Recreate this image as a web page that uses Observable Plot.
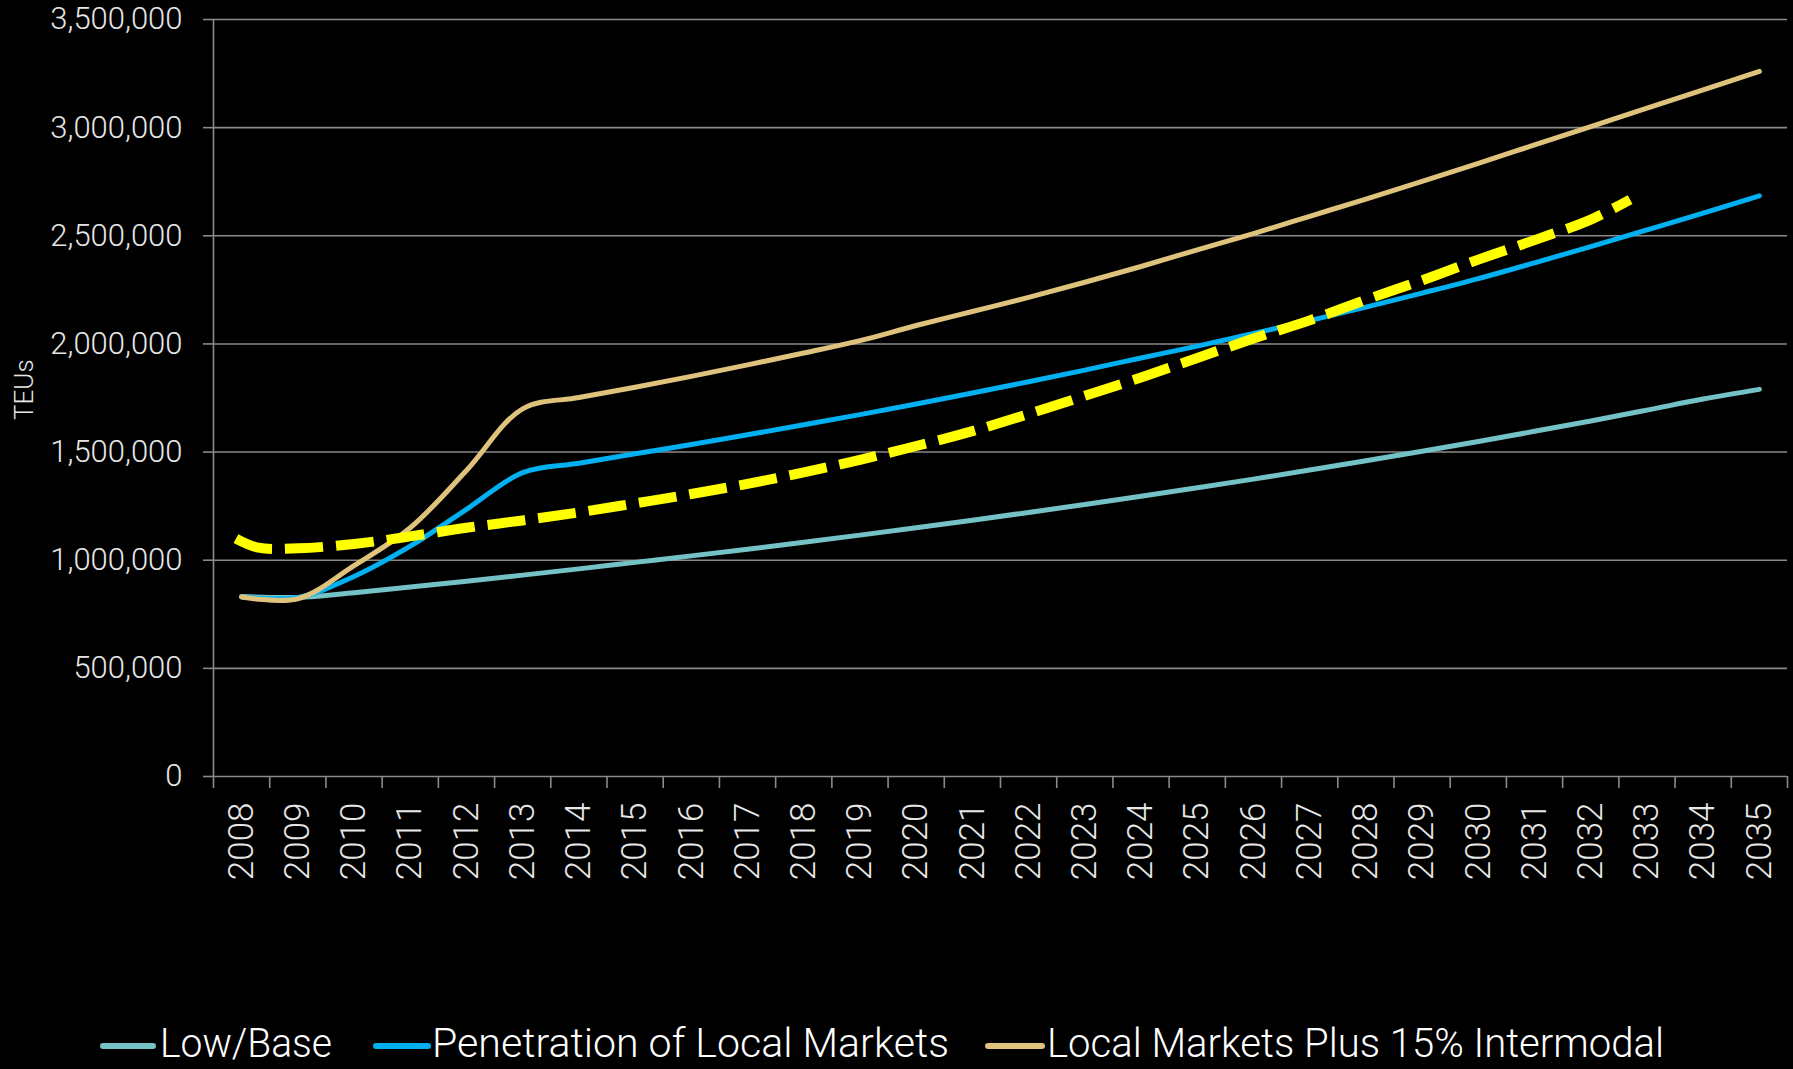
<!DOCTYPE html>
<html><head><meta charset="utf-8">
<script src="https://cdn.jsdelivr.net/npm/d3@7"></script>
<script src="https://cdn.jsdelivr.net/npm/@observablehq/plot@0.6"></script>
<style>
body{margin:0;background:#000;width:1793px;height:1069px;overflow:hidden;font-family:Roboto,"Noto Sans",sans-serif;}
#chart svg,#legend svg{display:block}
</style></head><body><div id="chart"></div><div id="legend"></div>
<script>
const years = [2008,2009,2010,2011,2012,2013,2014,2015,2016,2017,2018,2019,2020,2021,2022,2023,2024,2025,2026,2027,2028,2029,2030,2031,2032,2033,2034,2035];
const lowBase = [832000,828000,850000,876000,903000,931000,960000,990000,1020000,1051000,1083000,1116000,1150000,1185000,1221000,1258000,1296000,1335000,1375000,1417000,1460000,1504000,1549000,1596000,1644000,1694000,1745000,1790000];
const penetration = [830000,828000,925000,1065000,1235000,1405000,1448000,1492000,1535000,1580000,1626000,1673000,1722000,1773000,1825000,1879000,1935000,1990000,2048000,2108000,2170000,2235000,2302000,2375000,2450000,2527000,2605000,2685000];
const intermodal = [830000,822000,975000,1150000,1415000,1700000,1752000,1800000,1850000,1903000,1958000,2015000,2085000,2150000,2215000,2285000,2358000,2435000,2510000,2590000,2670000,2752000,2835000,2920000,3005000,3090000,3175000,3260000];
const trendYears = [2007.9,2008.3,2009,2010,2011,2012,2013,2014,2015,2016,2017,2018,2019,2020,2021,2022,2023,2024,2025,2026,2027,2028,2029,2030,2031,2032,2032.7];
const trendValues = [1100000,1058000,1055000,1075000,1110000,1150000,1184000,1221000,1263000,1306000,1353000,1406000,1464000,1528000,1597000,1676000,1760000,1845000,1935000,2025000,2109000,2204000,2294000,2390000,2480000,2575000,2667000];
const yTicks = [0,500000,1000000,1500000,2000000,2500000,3000000,3500000];
const seriesNames = ["Low/Base","Penetration of Local Markets","Local Markets Plus 15% Intermodal"];
const seriesColors = ["#74c2c6","#00b0f0","#dfc27c"];
const trendColor = "#ffff00";

const toRows = (vals) => years.map((yr, i) => ({year: yr, value: vals[i]}));
const trendRows = trendYears.map((yr, i) => ({year: yr, value: trendValues[i]}));
const bounds = years.map(y => y - 0.5).concat([years[years.length - 1] + 0.5]);
const grid = "#8a8a8a";
const textColor = "#e6e6e6";

const chart = Plot.plot({
  width: 1793, height: 900,
  marginTop: 19, marginBottom: 124, marginLeft: 213, marginRight: 6,
  style: {background: "#000", color: textColor, fontFamily: "Roboto, 'Noto Sans', sans-serif", fontWeight: 300},
  x: {domain: [bounds[0], bounds[bounds.length - 1]]},
  y: {domain: [0, 3500000]},
  marks: [
    Plot.gridY(yTicks, {stroke: grid, strokeOpacity: 1, strokeWidth: 1.6}),
    Plot.axisY(yTicks, {tickSize: 10, tickPadding: 21, tickFormat: d3.format(","), fontSize: 31, stroke: grid, strokeWidth: 1.6, fill: textColor, label: null}),
    Plot.ruleX([bounds[0]], {stroke: grid, strokeWidth: 1.6}),
    Plot.axisX(bounds, {tickSize: 12, tickFormat: () => "", stroke: grid, strokeWidth: 1.6, label: null}),
    Plot.axisX(years, {tickSize: 0, tickPadding: 26, tickRotate: -90, tickFormat: d => String(d), fontSize: 35, fill: textColor, label: null}),
    Plot.text(["TEUs"], {frameAnchor: "left", dx: -189, dy: 22, rotate: -90, fontSize: 26, fill: textColor}),
    Plot.line(toRows(lowBase), {x: "year", y: "value", stroke: seriesColors[0], strokeWidth: 5, curve: "catmull-rom", strokeLinecap: "round"}),
    Plot.line(toRows(penetration), {x: "year", y: "value", stroke: seriesColors[1], strokeWidth: 5, curve: "catmull-rom", strokeLinecap: "round"}),
    Plot.line(toRows(intermodal), {x: "year", y: "value", stroke: seriesColors[2], strokeWidth: 5, curve: "catmull-rom", strokeLinecap: "round"}),
    Plot.line(trendRows, {x: "year", y: "value", stroke: trendColor, strokeWidth: 10, curve: "catmull-rom", strokeDasharray: "38,13", strokeLinecap: "butt"})
  ]
});
document.getElementById("chart").appendChild(chart);

// legend
const legendItems = [
  {name: seriesNames[0], color: seriesColors[0], sx: 103, sw: 50, tx: 160, tw: 172},
  {name: seriesNames[1], color: seriesColors[1], sx: 376, sw: 52, tx: 432, tw: 517},
  {name: seriesNames[2], color: seriesColors[2], sx: 988, sw: 54, tx: 1047, tw: 617}
];
const lsvg = d3.select("#legend").append("svg").attr("width", 1793).attr("height", 169);
const g = lsvg.selectAll("g").data(legendItems).join("g");
g.append("line").attr("x1", d => d.sx).attr("x2", d => d.sx + d.sw).attr("y1", 146).attr("y2", 146)
  .attr("stroke", d => d.color).attr("stroke-width", 6).attr("stroke-linecap", "round");
g.append("text").attr("x", d => d.tx).attr("y", 157).attr("fill", "#ffffff")
  .attr("font-size", 40).attr("font-weight", 300).attr("font-family", "Roboto, 'Noto Sans', sans-serif")
  .attr("textLength", d => d.tw).attr("lengthAdjust", "spacingAndGlyphs")
  .text(d => d.name);
</script></body></html>
